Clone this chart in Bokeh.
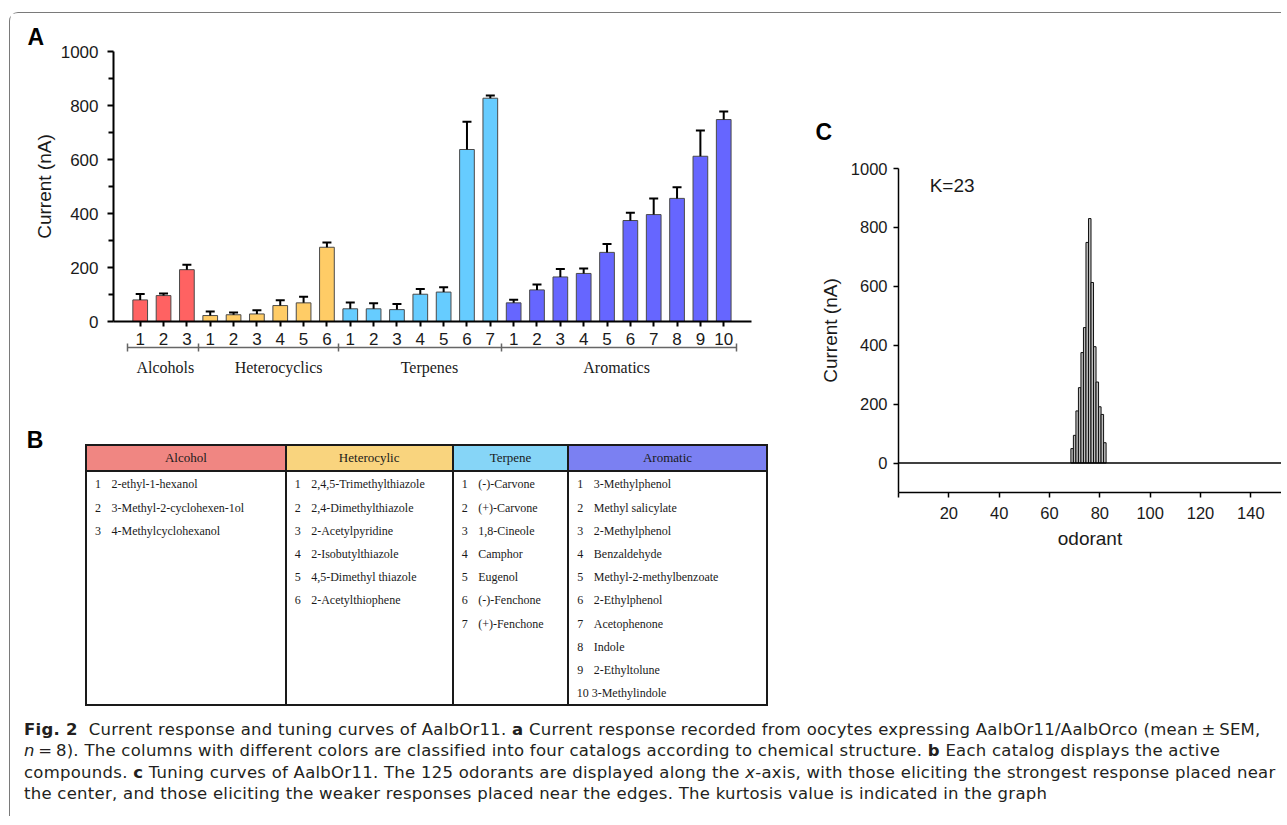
import numpy as np
from bokeh.plotting import figure
from bokeh.models import (ColumnDataSource, Range1d, FixedTicker, LinearAxis, Label,
                          Whisker, TeeHead, Span, Div)
from bokeh.layouts import row, column
from bokeh.embed import file_html
from bokeh.resources import INLINE

# ---------------- data : panel A ----------------
group_names = ["Alcohols", "Heterocyclics", "Terpenes", "Aromatics"]
alcohol_vals = [80, 96, 192]
alcohol_err = [22, 8, 18]
hetero_vals = [22, 25, 28, 59, 69, 275]
hetero_err = [15, 8, 14, 20, 23, 18]
terpene_vals = [47, 47, 44, 101, 109, 637, 827]
terpene_err = [23, 21, 21, 19, 18, 103, 10]
aromatic_vals = [69, 117, 165, 178, 256, 374, 396, 456, 612, 748]
aromatic_err = [12, 20, 29, 18, 31, 29, 60, 41, 95, 30]
group_colors = ["#FF6262", "#FFCC66", "#66CCFF", "#6666FF"]
yticks_A = [0, 200, 400, 600, 800, 1000]
yminor_A = [100, 300, 500, 700, 900]

# ---------------- data : panel C ----------------
tuning_x = list(range(69, 83))
tuning_vals = [49, 94, 177, 256, 375, 460, 749, 830, 613, 395, 275, 191, 165, 69]
kurtosis_text = "K=23"
xticks_C = [0, 20, 40, 60, 80, 100, 120, 140]
yticks_C = [0, 200, 400, 600, 800, 1000]

# ---------------- data : panel B ----------------
table_headers = ["Alcohol", "Heterocylic", "Terpene", "Aromatic"]
header_colors = ["#F08682", "#F9D47E", "#86D5F7", "#7B80F2"]
alcohol_names = ["2-ethyl-1-hexanol", "3-Methyl-2-cyclohexen-1ol", "4-Methylcyclohexanol"]
hetero_names = ["2,4,5-Trimethylthiazole", "2,4-Dimethylthiazole", "2-Acetylpyridine",
                "2-Isobutylthiazole", "4,5-Dimethyl thiazole", "2-Acetylthiophene"]
terpene_names = ["(-)-Carvone", "(+)-Carvone", "1,8-Cineole", "Camphor", "Eugenol",
                 "(-)-Fenchone", "(+)-Fenchone"]
aromatic_names = ["3-Methylphenol", "Methyl salicylate", "2-Methylphenol", "Benzaldehyde",
                  "Methyl-2-methylbenzoate", "2-Ethylphenol", "Acetophenone", "Indole",
                  "2-Ethyltolune", "3-Methylindole"]

caption_lines = [
    "<b>Fig. 2</b>&nbsp; Current response and tuning curves of AalbOr11. <b>a</b> Current response recorded from oocytes expressing AalbOr11/AalbOrco (mean\u2009\u00b1\u2009SEM,",
    "<i>n</i>\u2009=\u20098). The columns with different colors are classified into four catalogs according to chemical structure. <b>b</b> Each catalog displays the active",
    "compounds. <b>c</b> Tuning curves of AalbOr11. The 125 odorants are displayed along the <i>x</i>-axis, with those eliciting the strongest response placed near",
    "the center, and those eliciting the weaker responses placed near the edges. The kurtosis value is indicated in the graph",
]

SANS = "Liberation Sans"
SERIF = "Liberation Serif"

# ================= Panel A =================
vals_groups = [alcohol_vals, hetero_vals, terpene_vals, aromatic_vals]
errs_groups = [alcohol_err, hetero_err, terpene_err, aromatic_err]
xs, tops, uppers, cols, labs = [], [], [], [], []
idx = 0
for g, (vs, es) in enumerate(zip(vals_groups, errs_groups)):
    for k, (v, e) in enumerate(zip(vs, es)):
        xs.append(idx)
        tops.append(v)
        uppers.append(v + e)
        cols.append(group_colors[g])
        labs.append(str(k + 1))
        idx += 1
srcA = ColumnDataSource(dict(x=xs, top=tops, upper=uppers, lower=tops, color=cols))

pA = figure(width=760, height=412, x_range=Range1d(-1.144, 26.19), y_range=Range1d(0, 1000),
            output_backend="svg", toolbar_location=None,
            min_border_left=103, min_border_right=19, min_border_top=38, min_border_bottom=104)
pA.grid.visible = False
pA.outline_line_color = None
pA.title.text = "A"
pA.title.align = "left"
pA.title.offset = -86
pA.title.standoff = 3
pA.title.text_font = SANS
pA.title.text_font_size = "23px"
pA.title.text_font_style = "bold"
pA.title.text_color = "black"

pA.vbar(x="x", top="top", bottom=0, width=0.63, fill_color="color", line_color="#4a4a4a",
        line_width=1, source=srcA)
pA.add_layout(Whisker(source=srcA, base="x", upper="upper", lower="lower", dimension="height",
                      line_width=2, line_color="black", level="overlay",
                      upper_head=TeeHead(size=9, line_width=2, line_color="black"),
                      lower_head=None))

xa = pA.xaxis[0]
xa.ticker = FixedTicker(ticks=xs)
xa.major_label_overrides = {x: l for x, l in zip(xs, labs)}
xa.major_tick_out = 5
xa.major_tick_in = 0
xa.minor_tick_out = 0
xa.minor_tick_in = 0
xa.axis_line_width = 2
xa.major_tick_line_width = 2
xa.major_label_text_font = SANS
xa.major_label_text_font_size = "17px"
xa.major_label_text_color = "#1a1a1a"
xa.major_label_standoff = 6

ya = pA.yaxis[0]
ya.ticker = FixedTicker(ticks=yticks_A, minor_ticks=yminor_A)
ya.major_tick_out = 6
ya.major_tick_in = 0
ya.minor_tick_out = 5
ya.minor_tick_in = 0
ya.axis_line_width = 2
ya.major_tick_line_width = 2
ya.minor_tick_line_width = 2
ya.major_label_text_font = SANS
ya.major_label_text_font_size = "17px"
ya.major_label_text_color = "#1a1a1a"
ya.major_label_standoff = 9
ya.axis_label = "Current (nA)"
ya.axis_label_text_font = SANS
ya.axis_label_text_font_size = "19px"
ya.axis_label_text_font_style = "normal"
ya.axis_label_text_color = "#1a1a1a"
ya.axis_label_standoff = 3

# group bracket + group names as an extra axis (minor ticks = group edges)
sizes = [len(v) for v in vals_groups]
edges = [-0.55] + [float(np.sum(sizes[:i + 1])) - 0.5 for i in range(len(sizes) - 1)] + [sum(sizes) - 0.45]
group_label_x = [1.08, 5.93, 12.39, 20.41]
ga = LinearAxis(ticker=FixedTicker(ticks=group_label_x, minor_ticks=edges),
                bounds=(edges[0] - 0.001, edges[-1] + 0.001),
                major_tick_in=0, major_tick_out=0, minor_tick_in=4, minor_tick_out=4,
                axis_line_color="#666666", axis_line_width=1.5,
                minor_tick_line_color="#666666", minor_tick_line_width=1.5,
                major_label_overrides={x: n for x, n in zip(group_label_x, group_names)},
                major_label_text_font=SERIF, major_label_text_font_size="16px",
                major_label_text_color="#1a1a1a", major_label_standoff=7)
pA.add_layout(ga, "below")

# ================= Panel B (table, HTML) =================
ox, oy = 10, 425
col_edges = [86, 285.7, 452.7, 568.3, 766.7]
tbl_top, hdr_bot, tbl_bot = 445, 471, 705
row0, row_step = 484.3, 23.2
parts = []
for c in range(4):
    parts.append(f'<div style="position:absolute;left:{col_edges[c]-ox:.1f}px;top:{tbl_top-oy}px;'
                 f'width:{col_edges[c+1]-col_edges[c]:.1f}px;height:{hdr_bot-tbl_top}px;'
                 f'background:{header_colors[c]};"></div>')
for e in col_edges:
    parts.append(f'<div style="position:absolute;left:{e-1-ox:.1f}px;top:{tbl_top-1-oy}px;width:2px;'
                 f'height:{tbl_bot-tbl_top+2}px;background:#1a1a1a;"></div>')
for yv in [tbl_top, hdr_bot, tbl_bot]:
    parts.append(f'<div style="position:absolute;left:{col_edges[0]-1-ox:.1f}px;top:{yv-1-oy}px;'
                 f'width:{col_edges[-1]-col_edges[0]+2:.1f}px;height:2px;background:#1a1a1a;"></div>')
txt_style = f"position:absolute;white-space:nowrap;color:#1a1a1a;font-family:'{SERIF}';"
for c, h in enumerate(table_headers):
    parts.append(f'<div style="{txt_style}left:{col_edges[c]-ox:.1f}px;width:{col_edges[c+1]-col_edges[c]:.1f}px;'
                 f'top:{(tbl_top+hdr_bot)/2-8-oy:.1f}px;line-height:16px;font-size:13px;text-align:center;">{h}</div>')
for c, names in enumerate([alcohol_names, hetero_names, terpene_names, aromatic_names]):
    for k, nm in enumerate(names):
        yy = row0 + row_step * k - 7 - oy
        n = k + 1
        if n < 10:
            parts.append(f'<div style="{txt_style}left:{col_edges[c]+9-ox:.1f}px;top:{yy:.1f}px;'
                         f'line-height:14px;font-size:12px;">{n}</div>')
            parts.append(f'<div style="{txt_style}left:{col_edges[c]+25.5-ox:.1f}px;top:{yy:.1f}px;'
                         f'line-height:14px;font-size:12px;">{nm}</div>')
        else:
            parts.append(f'<div style="{txt_style}left:{col_edges[c]+8.4-ox:.1f}px;top:{yy:.1f}px;'
                         f'line-height:14px;font-size:12px;">{n} {nm}</div>')
parts.append(f'<div style="position:absolute;left:{35-15-ox}px;top:{440-13-oy}px;width:30px;'
             f'line-height:26px;text-align:center;font-family:\'{SANS}\';font-weight:bold;'
             f'font-size:23px;color:black;">B</div>')
tableB = Div(text='<div style="position:relative;width:760px;height:283px;">' + "".join(parts) + "</div>",
             width=760, height=283, margin=0)

# ================= Panel C =================
pC = figure(width=511, height=695, x_range=Range1d(0, 152.2), y_range=Range1d(-100, 1000),
            output_backend="svg", toolbar_location=None,
            min_border_left=128, min_border_right=0, min_border_top=155, min_border_bottom=216)
pC.grid.visible = False
pC.outline_line_color = None
pC.title.text = "C"
pC.title.align = "left"
pC.title.offset = -83
pC.title.standoff = 47
pC.title.text_font = SANS
pC.title.text_font_size = "23px"
pC.title.text_font_style = "bold"
pC.title.text_color = "black"

pC.add_layout(Span(location=0, dimension="width", line_color="black", line_width=1.5))
pC.vbar(x=tuning_x, top=tuning_vals, bottom=0, width=1, fill_color="#bdbdbd",
        line_color="#111111", line_width=1)

cx = pC.xaxis[0]
cx.ticker = FixedTicker(ticks=xticks_C)
cx.major_label_overrides = {0: ""}
cx.major_tick_out = 5
cx.major_tick_in = 0
cx.minor_tick_out = 0
cx.minor_tick_in = 0
cx.axis_line_width = 1.5
cx.major_tick_line_width = 1.5
cx.major_label_text_font = SANS
cx.major_label_text_font_size = "16.5px"
cx.major_label_text_color = "#1a1a1a"
cx.major_label_standoff = 9
cx.axis_label = "odorant"
cx.axis_label_text_font = SANS
cx.axis_label_text_font_size = "19px"
cx.axis_label_text_font_style = "normal"
cx.axis_label_text_color = "#1a1a1a"
cx.axis_label_standoff = 6

cy = pC.yaxis[0]
cy.ticker = FixedTicker(ticks=yticks_C)
cy.major_tick_out = 5
cy.major_tick_in = 0
cy.minor_tick_out = 0
cy.minor_tick_in = 0
cy.axis_line_width = 1.5
cy.major_tick_line_width = 1.5
cy.major_label_text_font = SANS
cy.major_label_text_font_size = "16.5px"
cy.major_label_text_color = "#1a1a1a"
cy.major_label_standoff = 6
cy.axis_label = "Current (nA)"
cy.axis_label_text_font = SANS
cy.axis_label_text_font_size = "19px"
cy.axis_label_text_font_style = "normal"
cy.axis_label_text_color = "#1a1a1a"
cy.axis_label_standoff = 7

pC.add_layout(Label(x=21.3, y=942, text=kurtosis_text, text_font=SANS, text_font_size="19px",
                    text_align="center", text_baseline="middle", text_color="#1a1a1a"))

# ================= Caption =================
cap_html = ('<div style="font-family:\'DejaVu Sans\'; font-size:16.5px; line-height:21.1px; letter-spacing:0.26px; '
            'padding:11.4px 0 0 14px; white-space:nowrap; color:#231f20;">'
            + "<br>".join(caption_lines) + "</div>")
cap = Div(text=cap_html, width=1271, height=108, margin=0)

layout = column(row(column(pA, tableB), pC), cap,
                styles={"margin-left": "9px", "margin-top": "12px",
                        "border-left": "1px solid #7a7a7a", "border-top": "1px solid #7a7a7a",
                        "border-top-left-radius": "9px"})

open("out.html", "w").write(file_html(layout, INLINE))
